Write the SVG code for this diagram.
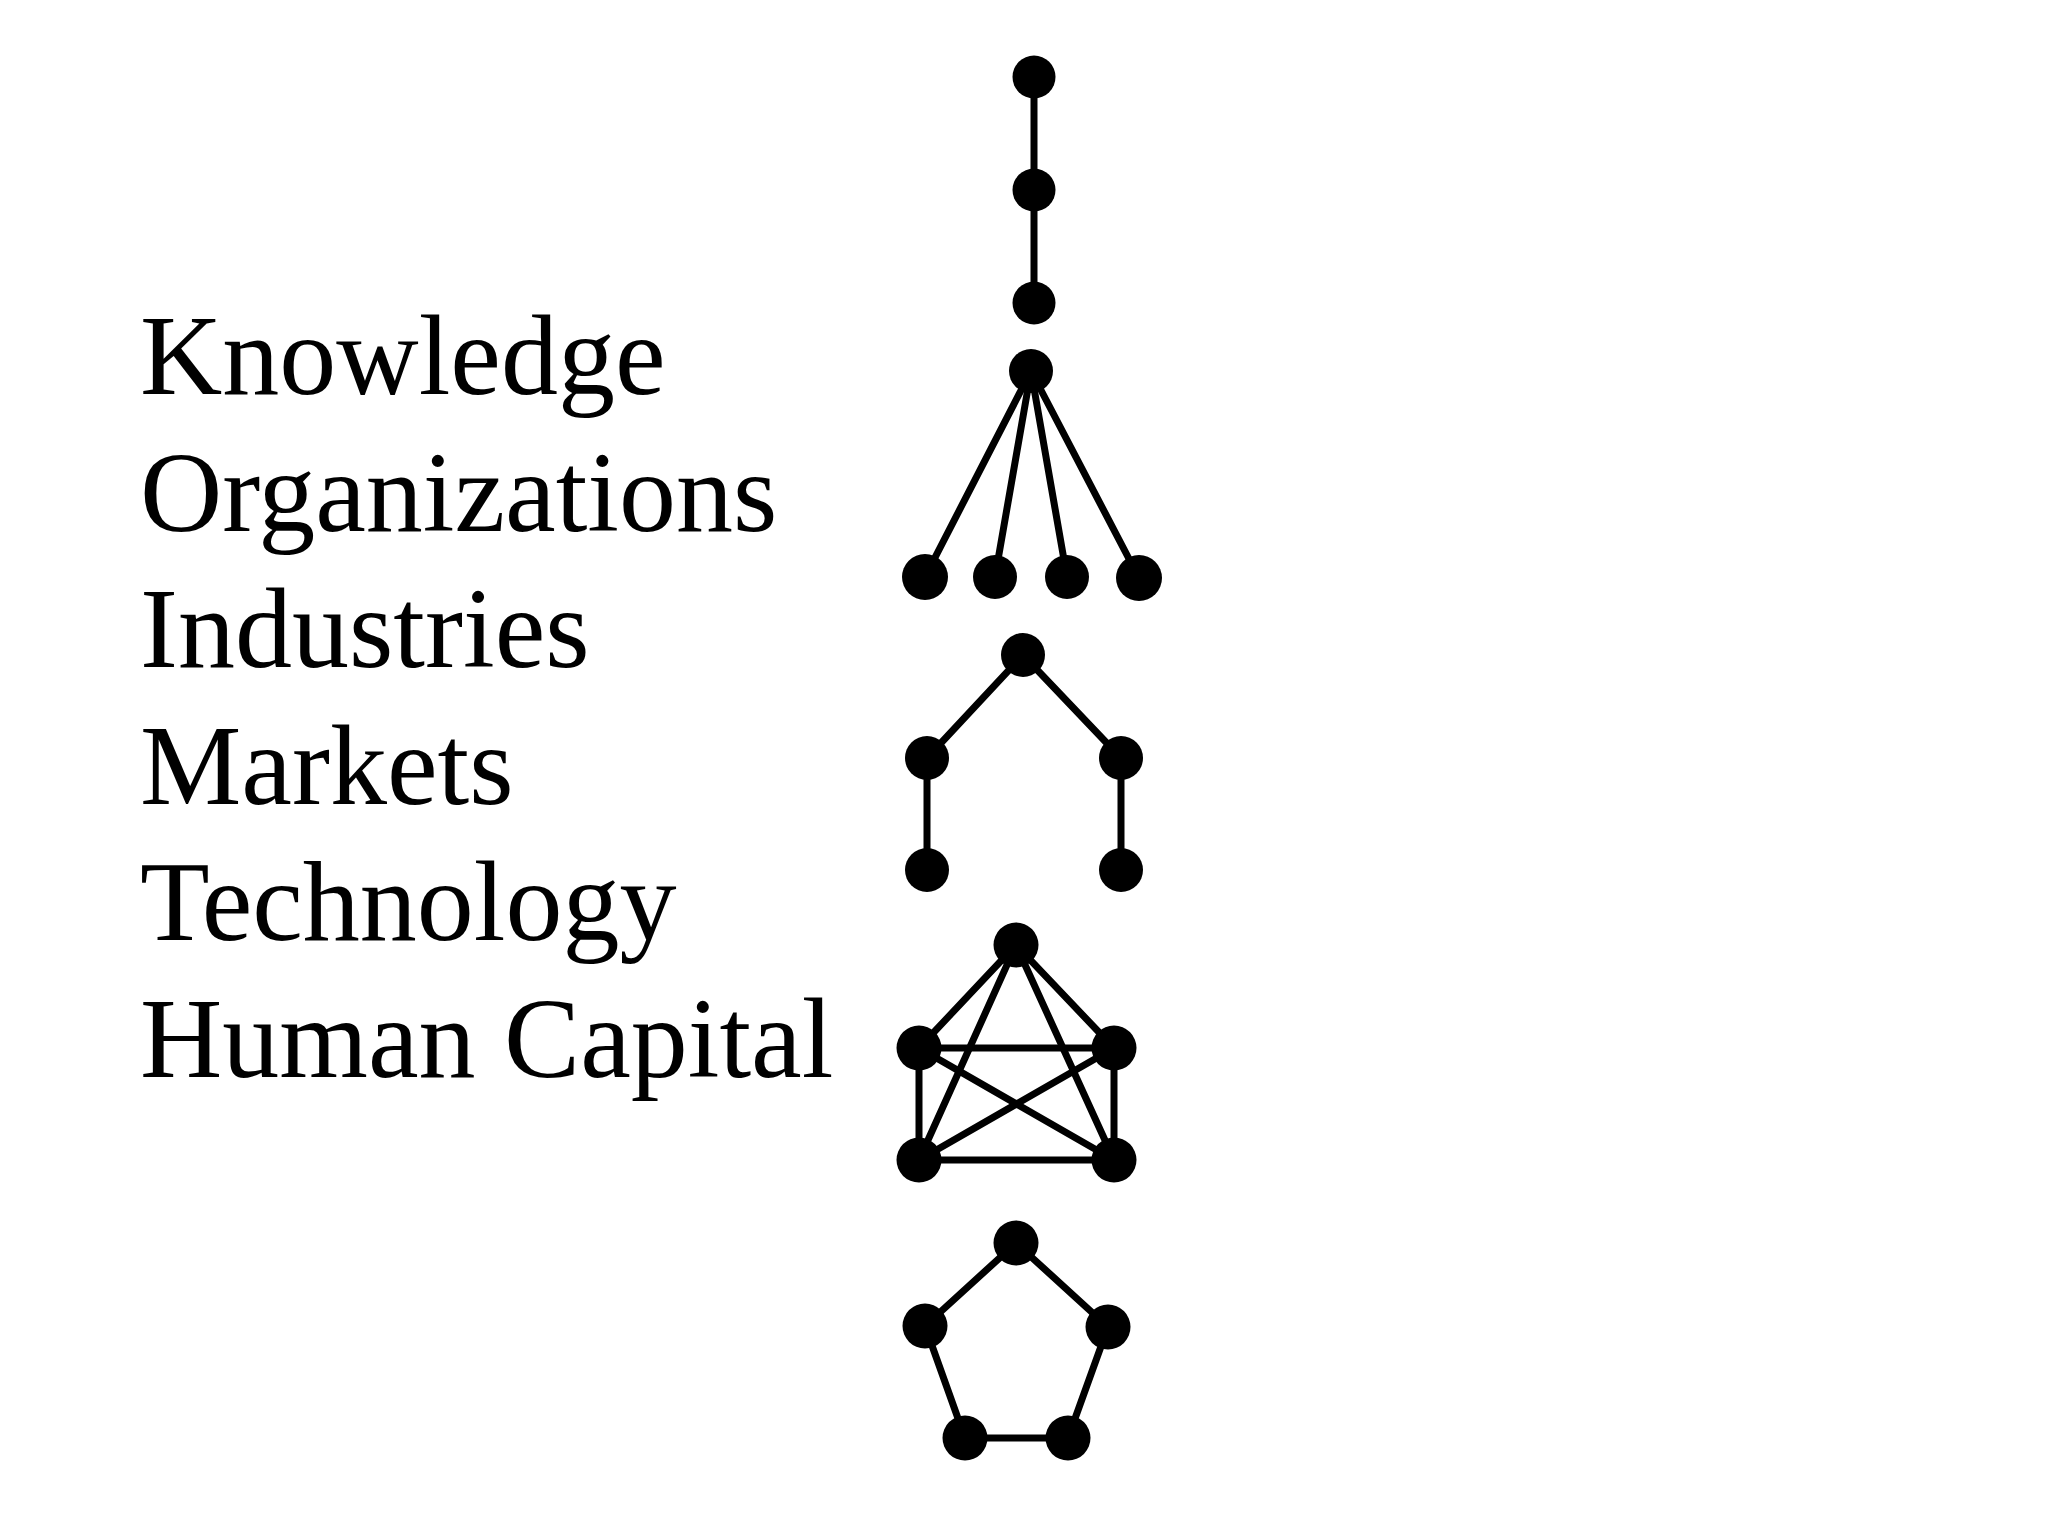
<svg xmlns="http://www.w3.org/2000/svg" width="2048" height="1536" viewBox="0 0 2048 1536">
<style>
.lbl{font-family:"Liberation Serif","Times New Roman",serif;font-size:114px;fill:#000}
.e{stroke:#000;stroke-width:7;stroke-linecap:round;fill:none}
.n{fill:#000}
</style>
<rect width="2048" height="1536" fill="#fff"/>
<g id="labels">
<text class="lbl" x="140" y="394">Knowledge</text>
<text class="lbl" x="140" y="531">Organizations</text>
<text class="lbl" x="140" y="667">Industries</text>
<text class="lbl" x="140" y="804">Markets</text>
<text class="lbl" x="140" y="940">Technology</text>
<text class="lbl" x="140" y="1077">Human Capital</text>
</g>
<g id="connectors">
<line class="e" x1="1034" y1="77" x2="1034" y2="190" stroke-width="5.5"/>
<line class="e" x1="1034" y1="190" x2="1034" y2="303" stroke-width="5.5"/>
<line class="e" x1="1031" y1="371" x2="925" y2="577"/>
<line class="e" x1="1031" y1="371" x2="995" y2="577"/>
<line class="e" x1="1031" y1="371" x2="1067" y2="577"/>
<line class="e" x1="1031" y1="371" x2="1139" y2="578"/>
<line class="e" x1="1023" y1="655" x2="927" y2="758"/>
<line class="e" x1="1023" y1="655" x2="1121" y2="758"/>
<line class="e" x1="927" y1="758" x2="927" y2="870" stroke-width="6"/>
<line class="e" x1="1121" y1="758" x2="1121" y2="870" stroke-width="6"/>
<line class="e" x1="1016" y1="945" x2="919" y2="1048"/>
<line class="e" x1="1016" y1="945" x2="1114" y2="1048"/>
<line class="e" x1="1016" y1="945" x2="919" y2="1160"/>
<line class="e" x1="1016" y1="945" x2="1114" y2="1160"/>
<line class="e" x1="919" y1="1048" x2="1114" y2="1048" stroke-width="5"/>
<line class="e" x1="919" y1="1048" x2="919" y2="1160" stroke-width="5"/>
<line class="e" x1="1114" y1="1048" x2="1114" y2="1160" stroke-width="5"/>
<line class="e" x1="919" y1="1048" x2="1114" y2="1160"/>
<line class="e" x1="1114" y1="1048" x2="919" y2="1160"/>
<line class="e" x1="919" y1="1160" x2="1114" y2="1160" stroke-width="6"/>
<line class="e" x1="1016" y1="1243" x2="925" y2="1326"/>
<line class="e" x1="1016" y1="1243" x2="1108" y2="1327"/>
<line class="e" x1="925" y1="1326" x2="965" y2="1438"/>
<line class="e" x1="1108" y1="1327" x2="1068" y2="1438"/>
<line class="e" x1="965" y1="1438" x2="1068" y2="1438"/>
</g>
<g id="chain">
<circle id="c1" class="n" cx="1034" cy="77" r="21.5"/>
<circle id="c2" class="n" cx="1034" cy="190" r="21.5"/>
<circle id="c3" class="n" cx="1034" cy="303" r="21.5"/>
</g>
<g id="fan">
<circle id="f0" class="n" cx="1031" cy="371" r="22"/>
<circle id="f1" class="n" cx="925" cy="577" r="23"/>
<circle id="f2" class="n" cx="995" cy="577" r="22"/>
<circle id="f3" class="n" cx="1067" cy="577" r="22"/>
<circle id="f4" class="n" cx="1139" cy="578" r="23"/>
</g>
<g id="tree">
<circle id="t0" class="n" cx="1023" cy="655" r="22"/>
<circle id="t1" class="n" cx="927" cy="758" r="22"/>
<circle id="t2" class="n" cx="1121" cy="758" r="22"/>
<circle id="t3" class="n" cx="927" cy="870" r="22"/>
<circle id="t4" class="n" cx="1121" cy="870" r="22"/>
</g>
<g id="complete">
<circle id="k0" class="n" cx="1016" cy="945" r="22.5"/>
<circle id="k1" class="n" cx="919" cy="1048" r="22.5"/>
<circle id="k2" class="n" cx="1114" cy="1048" r="22.5"/>
<circle id="k3" class="n" cx="919" cy="1160" r="22.5"/>
<circle id="k4" class="n" cx="1114" cy="1160" r="22.5"/>
</g>
<g id="ring">
<circle id="r0" class="n" cx="1016" cy="1243" r="22.5"/>
<circle id="r1" class="n" cx="925" cy="1326" r="22.5"/>
<circle id="r2" class="n" cx="1108" cy="1327" r="22.5"/>
<circle id="r3" class="n" cx="965" cy="1438" r="22.5"/>
<circle id="r4" class="n" cx="1068" cy="1438" r="22.5"/>
</g>
</svg>
